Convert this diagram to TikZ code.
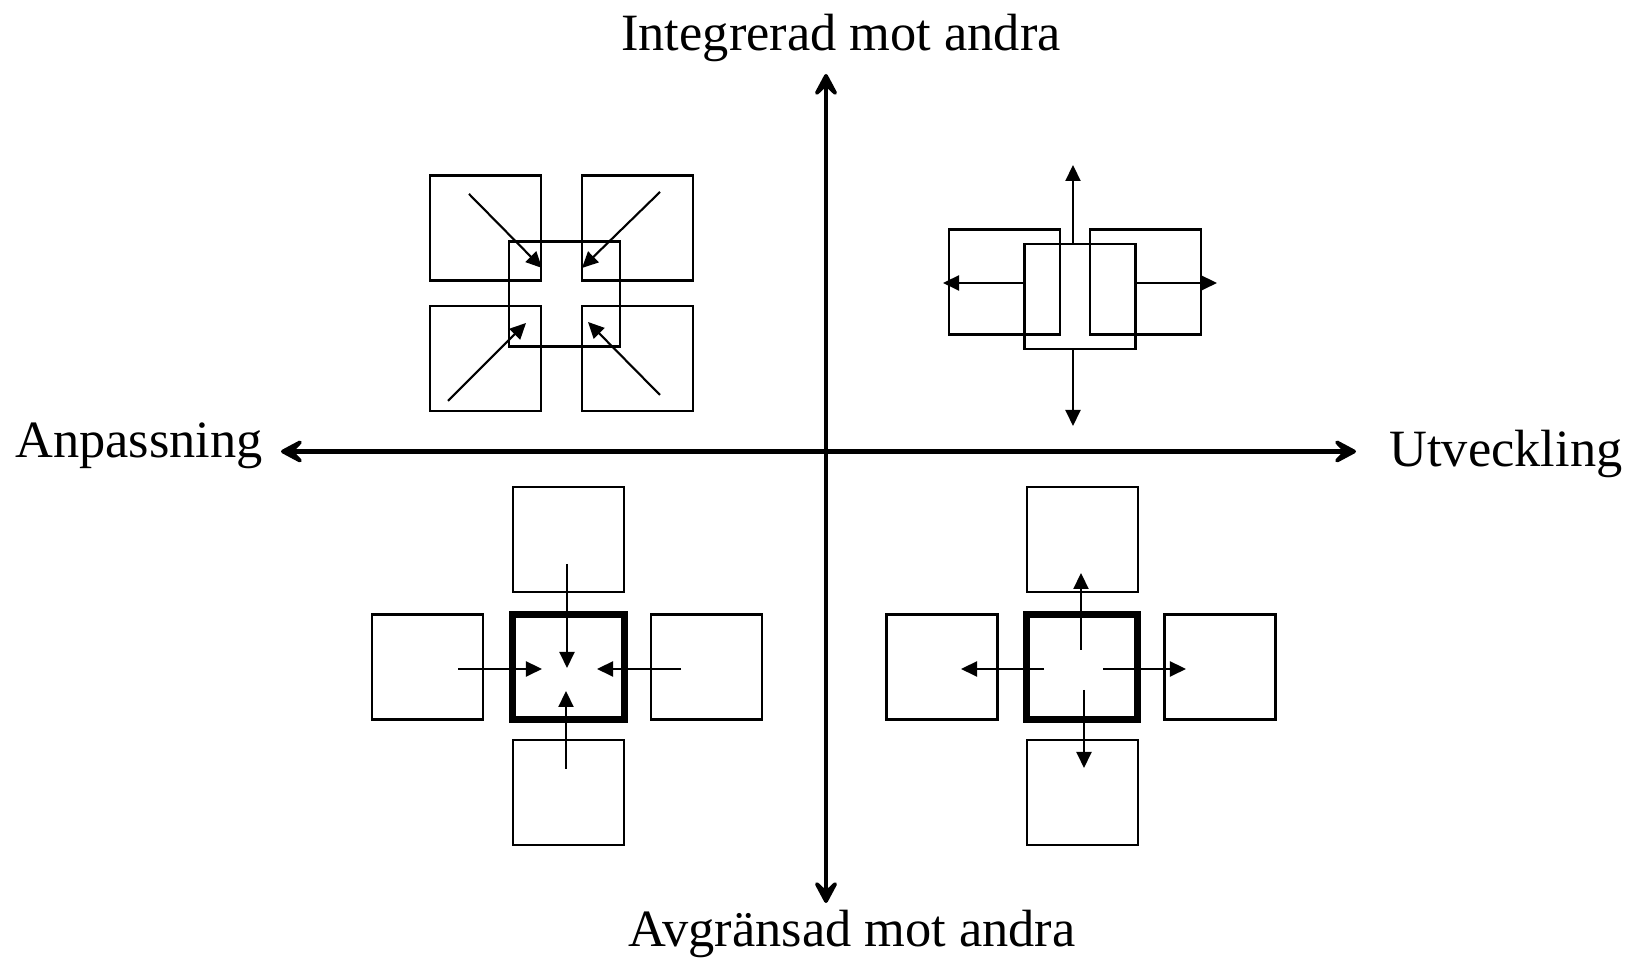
\documentclass[tikz,border=0pt]{standalone}
\usepackage{fontspec}
\setmainfont{Liberation Serif}
\usetikzlibrary{arrows.meta}

\tikzset{
  sq/.style={draw, line width=0.6pt, minimum width=1.11cm, minimum height=1.05cm,
             inner sep=0pt, outer sep=0pt},
  core/.style={sq, line width=2pt},
  arr/.style={line width=0.6pt, -{Triangle[length=0.16cm, width=0.15cm]}},
  axis/.style={line width=1.4pt,
               {Stealth[length=0.3cm, width=0.32cm, inset=0.15cm, round]}-{Stealth[length=0.3cm, width=0.32cm, inset=0.15cm, round]}},
  lbl/.style={font=\fontsize{14.9}{18}\selectfont, anchor=base, inner sep=0pt},
}

\begin{document}
\begin{tikzpicture}[x=0.01cm, y=-0.01cm]
  \useasboundingbox (0,0) rectangle (1632,962);

  % --- Axes and their labels ---
  \node[lbl] (integ) at (841,51)  {Integrerad mot andra};
  \node[lbl] (avgr)  at (852,947) {Avgränsad mot andra};
  \node[lbl] (anp)   at (139,458) {Anpassning};
  \node[lbl] (utv)   at (1506,467) {Utveckling};
  \coordinate (axW) at (281,451.5);
  \coordinate (axE) at (1356,451.5);
  \coordinate (axN) at (826,74);
  \coordinate (axS) at (826,903);
  \draw[axis] (axW) -- (axE);
  \draw[axis] (axS) -- (axN);

  % --- Boxes (thin ones) ---
  \foreach \name/\x/\y in {ul1/485.5/228, ul2/637.5/228, ul3/485.5/358.5,
                           ul4/637.5/358.5, ul0/564.5/294,
                           ur1/1004.5/282, ur2/1145.5/282, ur0/1080/296.5,
                           ll1/568.5/539.5, ll2/427.5/667, ll3/706.5/667, ll4/568.5/792.5,
                           lr1/1082.5/539.5, lr2/942/667, lr3/1220/667, lr4/1082.5/792.5}
    \node[sq] (\name) at (\x,\y) {};
  % --- Thick core boxes ---
  \node[core] (ll0) at (568.5,667) {};
  \node[core] (lr0) at (1082,667) {};

  % --- Arrow ends: -s start, -e tip ---
  \foreach \name/\x/\y in {ulA-s/469/194,  ulA-e/542/268,
                           ulB-s/660/192,  ulB-e/582/268,
                           ulC-s/448/401,  ulC-e/526/323,
                           ulD-s/660/395,  ulD-e/588/322,
                           urA-s/1073/244, urA-e/1073/165,
                           urB-s/1073/349, urB-e/1073/426,
                           urC-s/1024/283, urC-e/943/283,
                           urD-s/1136/283, urD-e/1217/283,
                           llA-s/567/564,  llA-e/567/668,
                           llB-s/458/669,  llB-e/542/669,
                           llC-s/681/669,  llC-e/597/669,
                           llD-s/566/769,  llD-e/566/691,
                           lrA-s/1081/650, lrA-e/1081/573,
                           lrB-s/1084/690, lrB-e/1084/768,
                           lrC-s/1044/669, lrC-e/961/669,
                           lrD-s/1103/669, lrD-e/1186/669}
    \coordinate (\name) at (\x,\y);

  % --- Arrows ---
  \foreach \q in {ul,ur,ll,lr}
    \foreach \k in {A,B,C,D}
      \draw[arr] (\q\k-s) -- (\q\k-e);
\end{tikzpicture}
\end{document}
